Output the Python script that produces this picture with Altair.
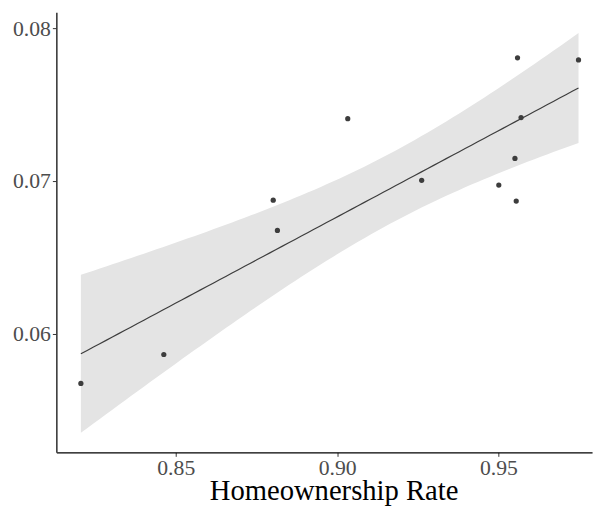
import altair as alt
import numpy as np
import pandas as pd

# Data
home_rate = [0.8206, 0.8463, 0.8802, 0.8815, 0.9033, 0.9262, 0.9501, 0.9551, 0.9555, 0.9559, 0.9570, 0.9748]
outcome = [0.05677, 0.05866, 0.06875, 0.06677, 0.07408, 0.07005, 0.06974, 0.07148, 0.06869, 0.07806, 0.07415, 0.07792]
x_ticks = [0.85, 0.90, 0.95]
y_ticks = [0.06, 0.07, 0.08]

pts = pd.DataFrame({"x": home_rate, "y": outcome})

# Linear fit with 95% confidence band (as geom_smooth(method="lm"))
xa = np.array(home_rate)
ya = np.array(outcome)
n = len(xa)
b1, b0 = np.polyfit(xa, ya, 1)
resid = ya - (b0 + b1 * xa)
s = np.sqrt(np.sum(resid ** 2) / (n - 2))
t975 = 2.228  # t quantile, df = 10
xbar = xa.mean()
sxx = np.sum((xa - xbar) ** 2)
xg = np.linspace(xa.min(), xa.max(), 80)
fit = b0 + b1 * xg
se = s * np.sqrt(1.0 / n + (xg - xbar) ** 2 / sxx)
band = pd.DataFrame({"x": xg, "fit": fit, "lo": fit - t975 * se, "hi": fit + t975 * se})

xs = alt.Scale(domain=[0.813, 0.979], nice=False, zero=False)
ys = alt.Scale(domain=[0.05226, 0.08103], nice=False, zero=False)

FONT = "Liberation Serif"

xaxis = alt.Axis(values=x_ticks, format=".2f", grid=False, title="Homeownership Rate",
                 titleFont=FONT, titleFontSize=29, titleFontWeight="normal", titleColor="#000000",
                 titleBaseline="alphabetic", titleY=48, titleX=281, titleAnchor="middle",
                 labelFont=FONT, labelFontSize=22, labelColor="#4d4d4d",
                 labelPadding=1, tickSize=4, tickColor="#333333", domainColor="#000000",
                 domainWidth=1.2, labelFlush=False)
yaxis = alt.Axis(values=y_ticks, format=".2f", grid=False, title=None,
                 labelFont=FONT, labelFontSize=22, labelColor="#4d4d4d",
                 labelPadding=2, tickSize=4, tickColor="#333333", domainColor="#3a3a3a",
                 domainWidth=1.6, labelFlush=False)

ribbon = alt.Chart(band).mark_area(color="#e4e4e4", opacity=1).encode(
    x=alt.X("x:Q", scale=xs, axis=xaxis),
    y=alt.Y("lo:Q", scale=ys, axis=yaxis),
    y2="hi:Q",
)
line = alt.Chart(band).mark_line(color="#3d3d3d", strokeWidth=1.2).encode(
    x=alt.X("x:Q", scale=xs),
    y=alt.Y("fit:Q", scale=ys),
)
points = alt.Chart(pts).mark_circle(color="#3d3d3d", opacity=1, size=28).encode(
    x=alt.X("x:Q", scale=xs),
    y=alt.Y("y:Q", scale=ys),
)

chart = (ribbon + line + points).properties(
    width=543, height=446,
    autosize=alt.AutoSizeParams(type="none"),
    padding={"left": 49, "top": 1, "right": 5, "bottom": 55},
    background="white",
).configure_view(stroke="transparent", strokeWidth=0)

chart.save("out.html", embed_options={"renderer": "svg", "actions": False})
